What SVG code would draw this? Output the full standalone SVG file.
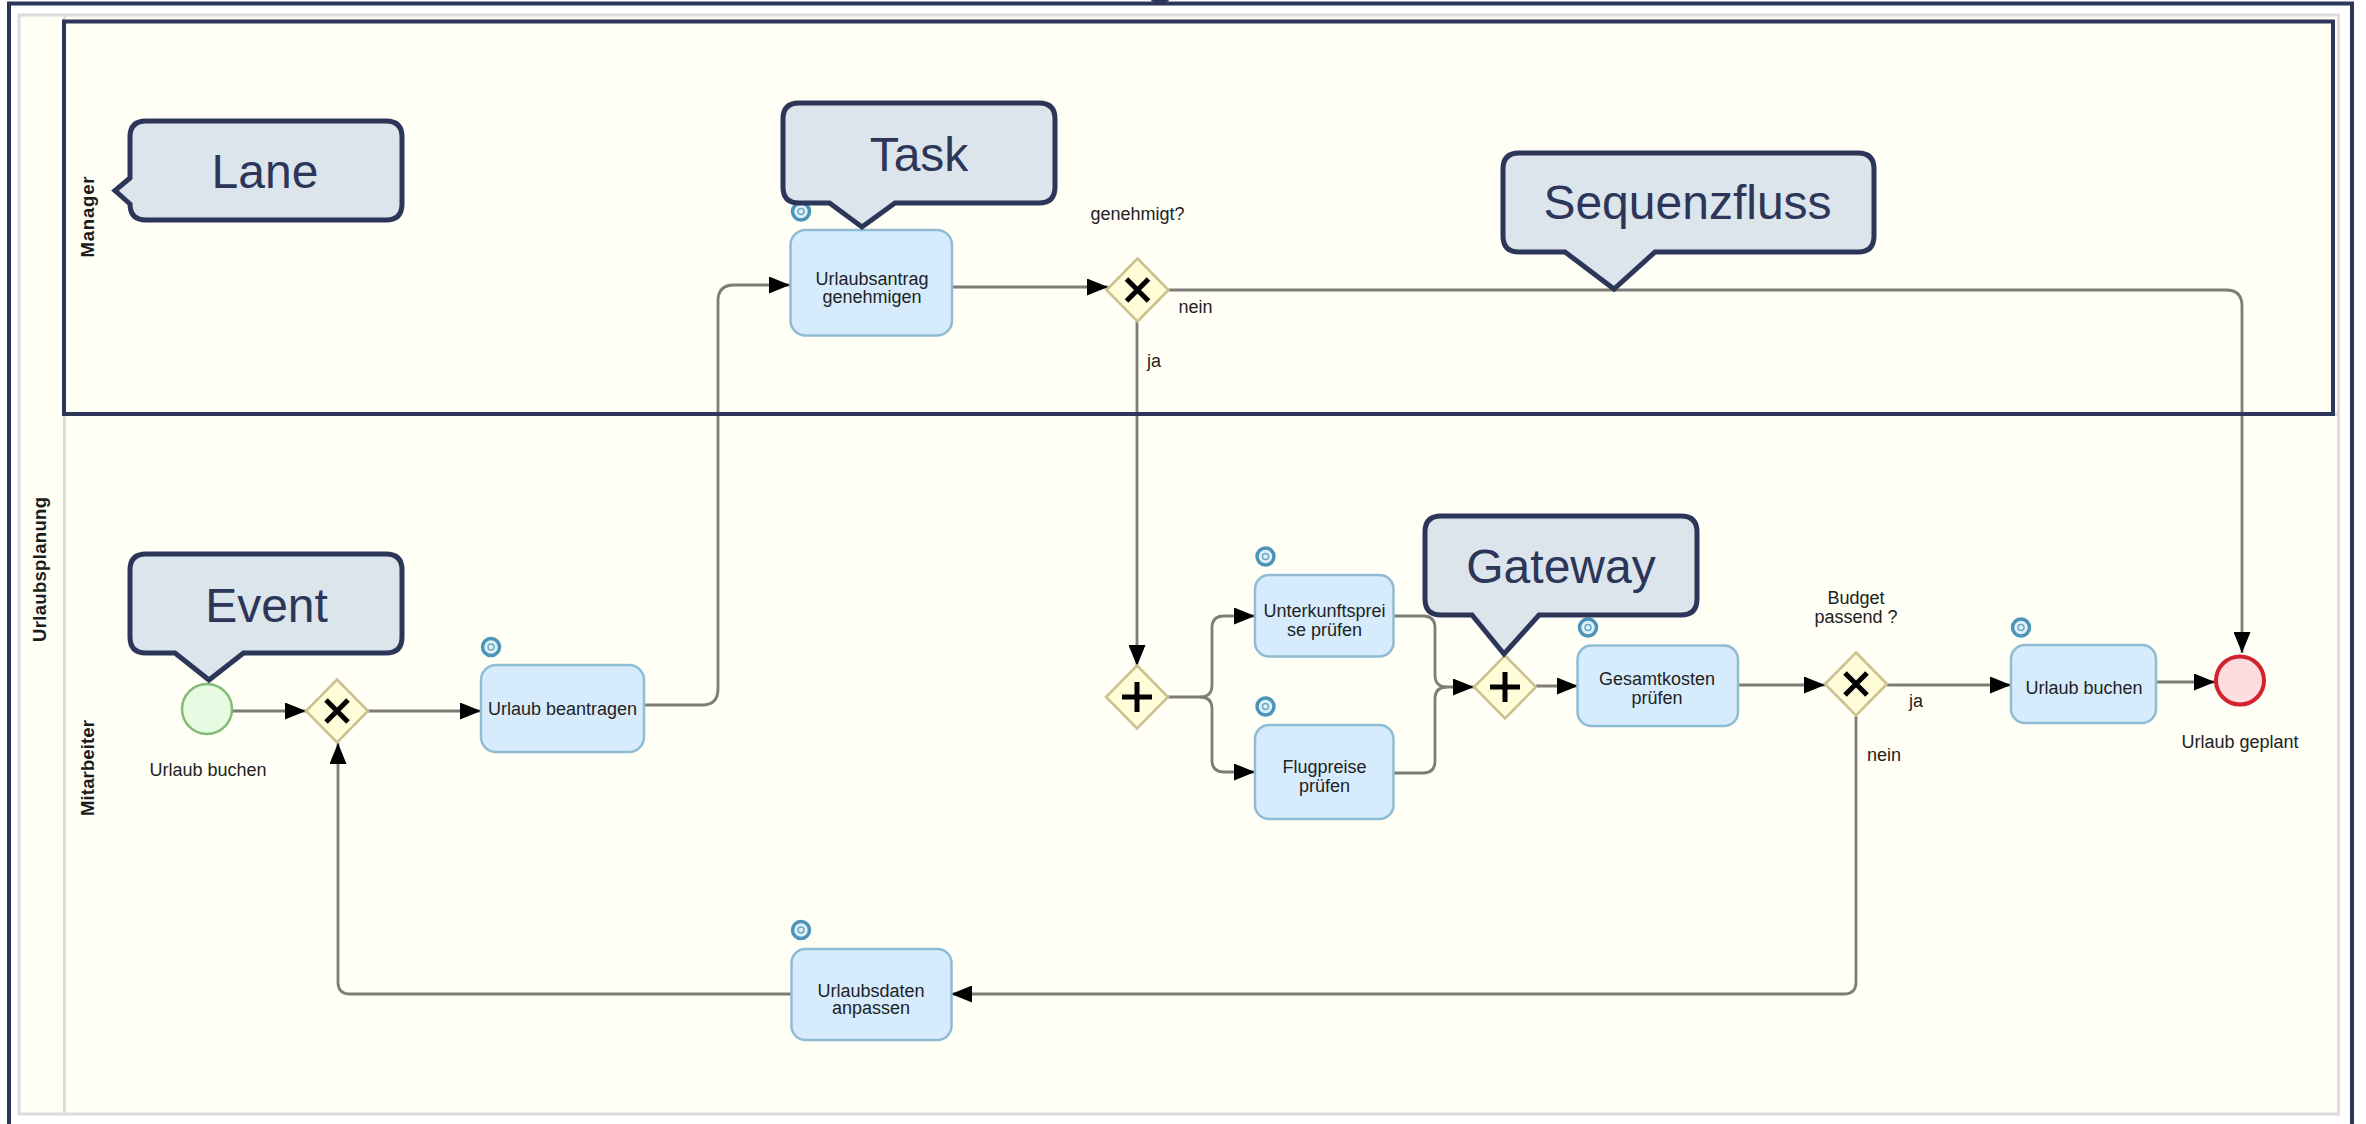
<svg xmlns="http://www.w3.org/2000/svg" width="2366" height="1124" viewBox="0 0 2366 1124">
<style>
.t{font-family:"Liberation Sans",Arial,sans-serif;font-size:18px;fill:#222;text-anchor:middle}
.b{font-family:"Liberation Sans",Arial,sans-serif;font-size:18.5px;font-weight:bold;fill:#1c1c1c;text-anchor:middle}
.c{font-family:"Liberation Sans",Arial,sans-serif;font-size:48px;fill:#2b3658;text-anchor:middle}
.callout{fill:#dce4ec;stroke:#2b3658;stroke-width:5;stroke-linejoin:miter}
.task{fill:#d6ecfd;stroke:#8fbcd4;stroke-width:2.5}
.gw{fill:#fffcd8;stroke:#cdbf8e;stroke-width:2.5}
.mark{stroke:#000;stroke-width:5;fill:none}
.flow{fill:none;stroke:#7d7d76;stroke-width:2.8}
.navy{fill:none;stroke:#2b3658;stroke-width:4}
</style>
<defs>
<marker id="arrow" markerUnits="userSpaceOnUse" markerWidth="22" markerHeight="17" refX="21" refY="8.500" orient="auto"><path d="M0 0L21 8.500L0 17Z" fill="#000"/></marker>
<g id="icon"><circle r="8.500" fill="#dff0f6" stroke="#4b94b8" stroke-width="3.500"/><circle r="3" fill="none" stroke="#6aa9c7" stroke-width="1.500"/></g>
<path id="gwshape" class="gw" d="M0 -31.500L31 0L0 31.500L-31 0Z"/>
<path id="xmark" class="mark" d="M-11 -11L11 11M-11 11L11 -11"/>
<path id="plus" class="mark" d="M-15 0H15M0 -15V15"/>
</defs>

<g id="frame">
<rect x="0" y="0" width="2366" height="1124" fill="#fff"/>
<path d="M9 1124V3.500H2352V1124" fill="none" stroke="#2b3658" stroke-width="4"/>
<ellipse cx="1160" cy="0" rx="9" ry="3" fill="#2b3658"/>
<rect x="19" y="15" width="2319.500" height="1099" fill="#fffff6" stroke="#dcdcd8" stroke-width="3"/>
<path d="M64.500 15V1114M64.500 414H2338" fill="none" stroke="#dcdcd8" stroke-width="3"/>
</g>

<g id="lane-labels">
<text class="b" transform="translate(46 569.500) rotate(-90)" textLength="145">Urlaubsplanung</text>
<text class="b" transform="translate(94 217) rotate(-90)" textLength="81">Manager</text>
<text class="b" transform="translate(94 768) rotate(-90)" textLength="96">Mitarbeiter</text>
</g>

<g id="connectors">
<path class="flow" marker-end="url(#arrow)" d="M232 711H306"/>
<path class="flow" marker-end="url(#arrow)" d="M368 711H481"/>
<path class="flow" marker-end="url(#arrow)" d="M644 705H702Q718 705 718 689V301Q718 285 734 285H790"/>
<path class="flow" marker-end="url(#arrow)" d="M952 287H1108"/>
<path class="flow" marker-end="url(#arrow)" d="M1168 290H2226Q2242 290 2242 306V653"/>
<path class="flow" marker-end="url(#arrow)" d="M1137 321V666"/>
<path class="flow" marker-end="url(#arrow)" d="M1168 697H1200Q1212 697 1212 685V628Q1212 616 1224 616H1255"/>
<path class="flow" marker-end="url(#arrow)" d="M1200 697Q1212 697 1212 709V760Q1212 772 1224 772H1255"/>
<path class="flow" marker-end="url(#arrow)" d="M1394 616H1423Q1435 616 1435 628V675Q1435 687 1447 687H1474"/>
<path class="flow" d="M1394 773H1423Q1435 773 1435 761V699Q1435 687 1447 687"/>
<path class="flow" marker-end="url(#arrow)" d="M1536 686H1578"/>
<path class="flow" marker-end="url(#arrow)" d="M1738 685H1825"/>
<path class="flow" marker-end="url(#arrow)" d="M1887 685H2011"/>
<path class="flow" marker-end="url(#arrow)" d="M2156 682H2215"/>
<path class="flow" marker-end="url(#arrow)" d="M1856 716V982Q1856 994 1844 994H951"/>
<path class="flow" marker-end="url(#arrow)" d="M791 994H350Q338 994 338 982V743"/>
</g>

<rect id="lane-manager-outline" class="navy" x="64" y="21.500" width="2269" height="392.500"/>

<g id="start-event"><circle cx="207" cy="709" r="25" fill="#e7fbe2" stroke="#84bb76" stroke-width="2.500"/><text class="t" x="208" y="776">Urlaub buchen</text></g>
<g id="gateway-1"><use href="#gwshape" x="337" y="711"/><use href="#xmark" x="337" y="711"/></g>
<g id="task-beantragen"><rect class="task" x="481" y="665" width="163" height="87" rx="15"/><use href="#icon" x="491" y="647"/><text class="t" x="562.500" y="715">Urlaub beantragen</text></g>
<g id="task-genehmigen"><rect class="task" x="790.500" y="230" width="161.500" height="105.500" rx="15"/><use href="#icon" x="801" y="211.500"/><text class="t" x="872" y="285">Urlaubsantrag<tspan x="872" y="303">genehmigen</tspan></text></g>
<g id="gateway-genehmigt"><use href="#gwshape" x="1137.500" y="290"/><use href="#xmark" x="1137.500" y="290"/><text class="t" x="1137.500" y="220">genehmigt?</text></g>
<g id="label-nein-1"><text class="t" x="1195.500" y="313">nein</text></g>
<g id="label-ja-1"><text class="t" x="1154" y="367">ja</text></g>
<g id="gateway-split"><use href="#gwshape" x="1137" y="697"/><use href="#plus" x="1137" y="697"/></g>
<g id="task-unterkunft"><rect class="task" x="1255" y="575" width="138.500" height="81.500" rx="14"/><use href="#icon" x="1265.500" y="556.500"/><text class="t" x="1324.500" y="617">Unterkunftsprei<tspan x="1324.500" y="635.500">se prüfen</tspan></text></g>
<g id="task-flug"><rect class="task" x="1255" y="725" width="138.500" height="94" rx="14"/><use href="#icon" x="1265.500" y="706.500"/><text class="t" x="1324.500" y="773">Flugpreise<tspan x="1324.500" y="792">prüfen</tspan></text></g>
<g id="gateway-join"><use href="#gwshape" x="1505" y="687"/><use href="#plus" x="1505" y="687"/></g>
<g id="task-gesamt"><rect class="task" x="1577.500" y="645.500" width="160.500" height="80.500" rx="14"/><use href="#icon" x="1588" y="627.500"/><text class="t" x="1657" y="685">Gesamtkosten<tspan x="1657" y="704">prüfen</tspan></text></g>
<g id="gateway-budget"><use href="#gwshape" x="1856" y="684"/><use href="#xmark" x="1856" y="684"/><text class="t" x="1856" y="604">Budget<tspan x="1856" y="623">passend ?</tspan></text></g>
<g id="label-ja-2"><text class="t" x="1916" y="707">ja</text></g>
<g id="label-nein-2"><text class="t" x="1884" y="760.500">nein</text></g>
<g id="task-buchen"><rect class="task" x="2011" y="645" width="145" height="78" rx="14"/><use href="#icon" x="2021" y="627.500"/><text class="t" x="2084" y="694">Urlaub buchen</text></g>
<g id="end-event"><circle cx="2240" cy="680.500" r="24" fill="#fddde0" stroke="#d3222f" stroke-width="4"/><text class="t" x="2240" y="748">Urlaub geplant</text></g>
<g id="task-anpassen"><rect class="task" x="791.500" y="949" width="160" height="91" rx="14"/><use href="#icon" x="801" y="930"/><text class="t" x="871" y="996.500">Urlaubsdaten<tspan x="871" y="1014">anpassen</tspan></text></g>

<g id="callout-lane"><path class="callout" d="M146 121H386Q402 121 402 137V204Q402 220 386 220H146Q130 220 130 204L115 190.500L130 178V137Q130 121 146 121Z"/><text class="c" x="265" y="188">Lane</text></g>
<g id="callout-task"><path class="callout" d="M799 103H1039Q1055 103 1055 119V187Q1055 203 1039 203H895L862 227L829.500 203H799Q783 203 783 187V119Q783 103 799 103Z"/><text class="c" x="919" y="171">Task</text></g>
<g id="callout-sequenz"><path class="callout" d="M1519 153H1858Q1874 153 1874 169V236Q1874 252 1858 252H1655L1614 289L1565 252H1519Q1503 252 1503 236V169Q1503 153 1519 153Z"/><text class="c" x="1687.500" y="219">Sequenzfluss</text></g>
<g id="callout-event"><path class="callout" d="M146 554H386Q402 554 402 570V637Q402 653 386 653H243.500L209 680L175 653H146Q130 653 130 637V570Q130 554 146 554Z"/><text class="c" x="266.500" y="622">Event</text></g>
<g id="callout-gateway"><path class="callout" d="M1441 516H1681Q1697 516 1697 532V599Q1697 615 1681 615H1539L1504 654L1472 615H1441Q1425 615 1425 599V532Q1425 516 1441 516Z"/><text class="c" x="1561" y="583">Gateway</text></g>
</svg>
